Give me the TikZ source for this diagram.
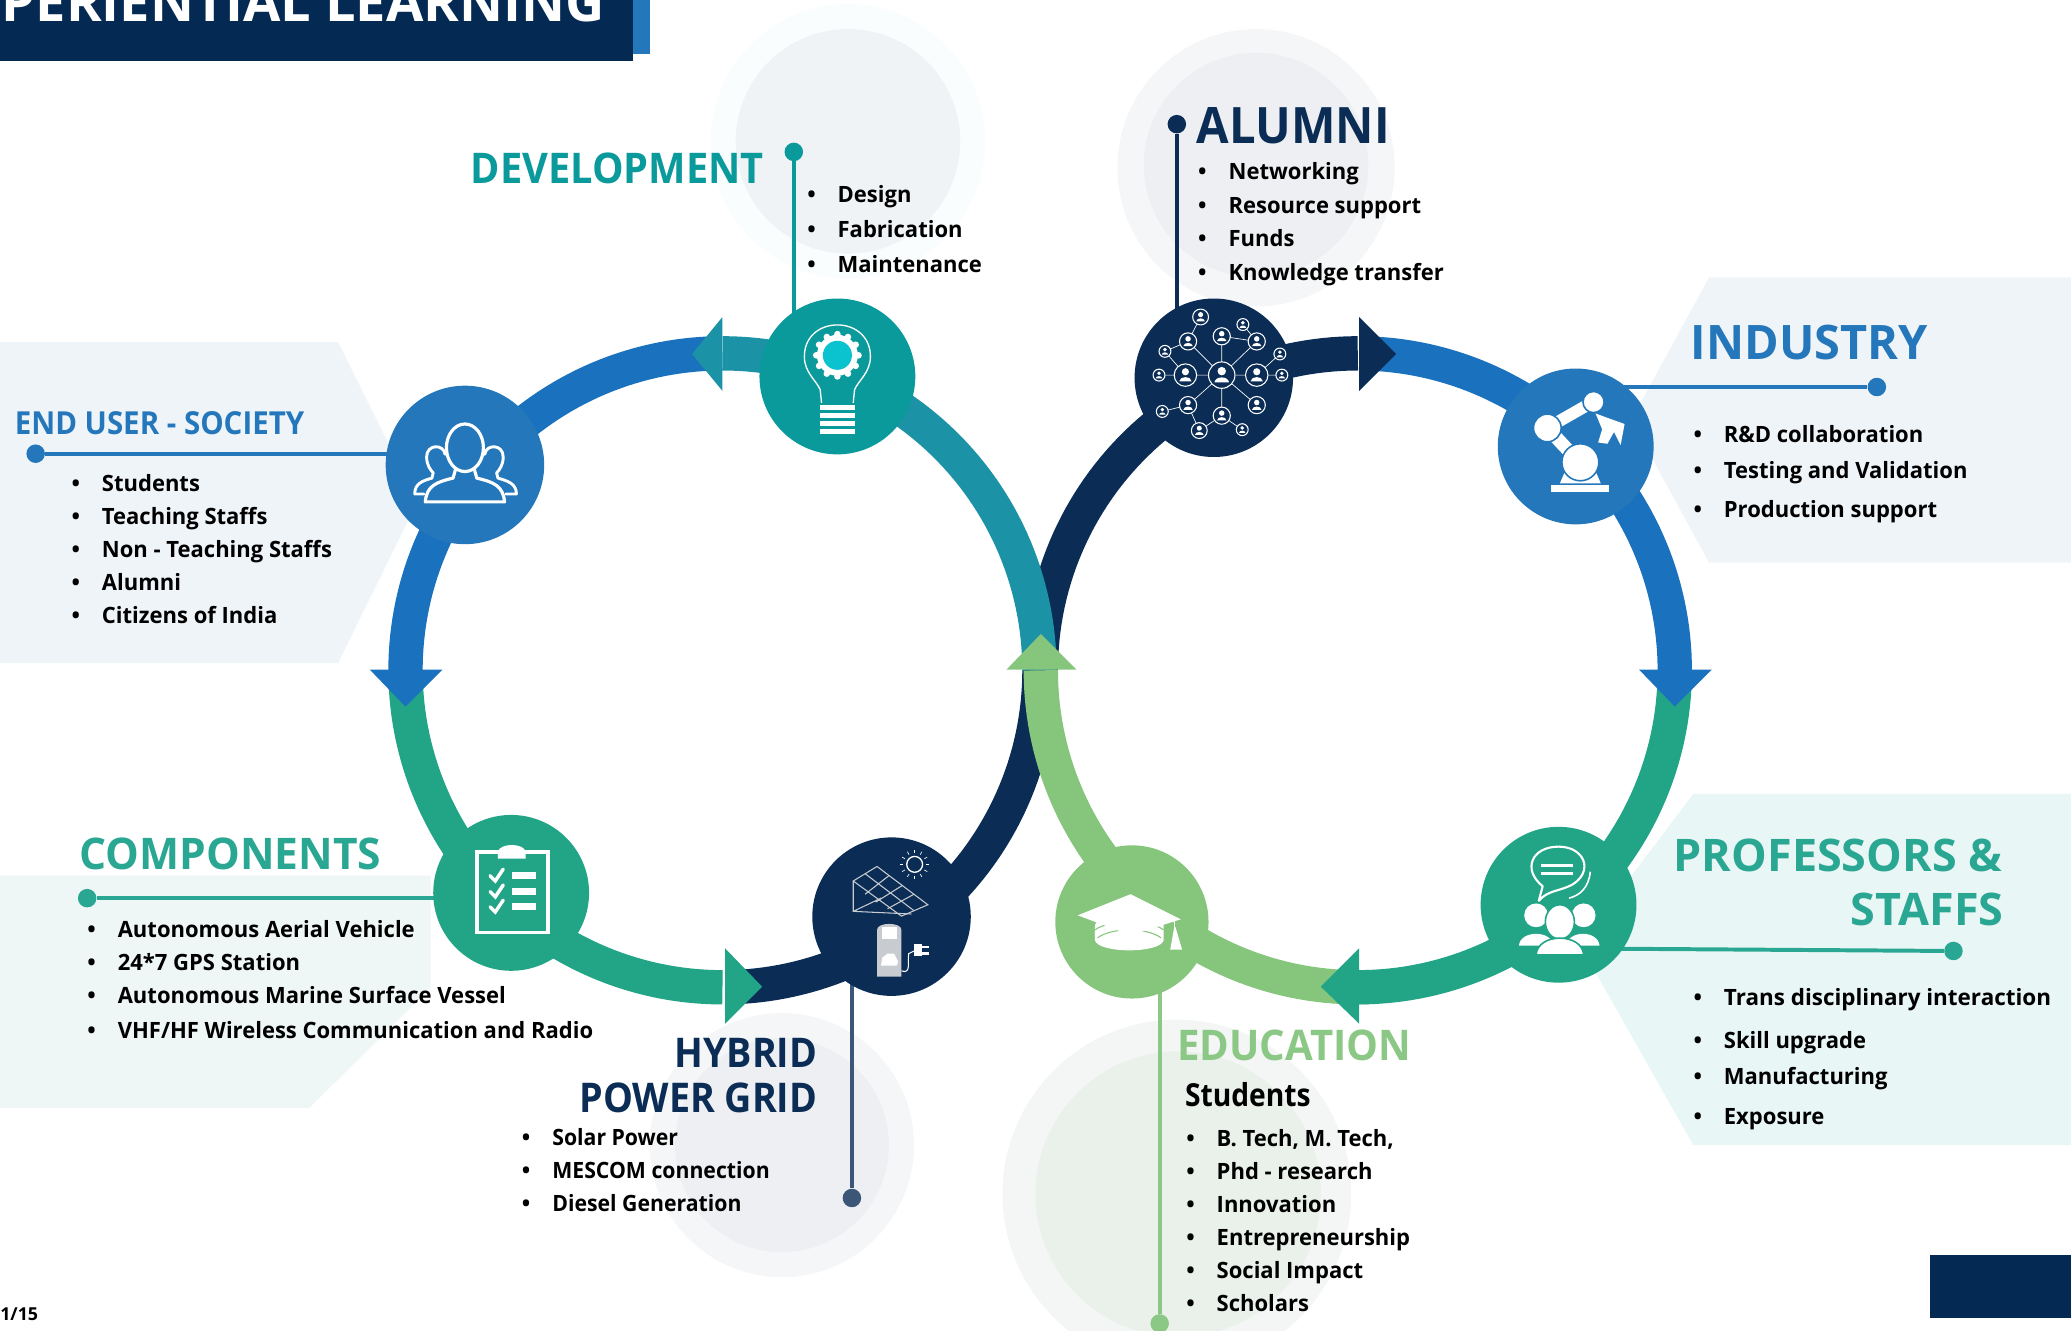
\documentclass[tikz,border=0pt]{standalone}
\usepackage{graphicx}
\usepackage{fontspec}
\setmainfont{Open Sans}
\definecolor{cnavy}{HTML}{0A2C55}
\definecolor{cblue}{HTML}{2377BA}
\definecolor{cring}{HTML}{1A72BE}
\definecolor{cteal}{HTML}{0A9A9C}
\definecolor{cringteal}{HTML}{1C92A6}
\definecolor{cgreen}{HTML}{22A586}
\definecolor{clight}{HTML}{86C67C}
\definecolor{ctitleg}{HTML}{2AA792}
\definecolor{ctitlel}{HTML}{8CC885}
\definecolor{cpaneb}{HTML}{EFF4F9}
\definecolor{cpaneg}{HTML}{EEF7F6}
\definecolor{cpanep}{HTML}{E9F6F6}
\definecolor{chdr}{HTML}{042A54}
\definecolor{cdiscA}{HTML}{FAFDFD}
\definecolor{cdiscB}{HTML}{EFF3F6}
\definecolor{cdiscC}{HTML}{F5F6F7}
\definecolor{cdiscD}{HTML}{EEEFF2}
\definecolor{cdiscE}{HTML}{E9F1EA}
\definecolor{cdiscF}{HTML}{F4F5F5}
\definecolor{cgrey}{HTML}{C8CBCF}
\definecolor{ccyan}{HTML}{0BC2CF}
\tikzset{
 x=1pt,y=-1pt,
 title/.style={anchor=base west,inner sep=0pt,font=\bfseries\fontsize{#1}{#1}\selectfont},
 titler/.style={anchor=base east,inner sep=0pt,font=\bfseries\fontsize{#1}{#1}\selectfont},
 itemtext/.style={anchor=base west,inner sep=0pt,font=\bfseries\fontsize{17}{20}\selectfont,text=black},
 icon/.style={circle,minimum size=#1,inner sep=0pt},
 leaddot/.style={circle,minimum size=14pt,inner sep=0pt,fill=#1},
 leader/.style={line width=3pt,color=#1},
 wline/.style={draw=white,line width=#1,line cap=round,line join=round},
}
\newcommand{\sx}[2]{\scalebox{#1}[1]{#2}}
\newcommand{\ringarc}[5]{\draw[line width=26pt,line join=round,color=#5] plot[domain=#3:#4,samples=60] ({#1+240*cos(\x)},{#2-240*sin(\x)});}
\newcommand{\li}[4]{\node[itemtext] (#1) at (#2-23,#3+1) {\makebox[23pt][l]{\textbullet}\sx{.98}{#4}};}
\newcommand{\netp}[3]{%
 \draw[white,line width=0.8pt,fill=cnavy] (#1,#2) circle (#3 pt);
 \fill[white] ({#1},{#2-0.3*#3}) circle ({0.32*#3 pt});
 \fill[white] ({#1-0.55*#3},{#2+0.55*#3}) .. controls ({#1-0.5*#3},{#2+0.05*#3}) and ({#1+0.5*#3},{#2+0.05*#3}) .. ({#1+0.55*#3},{#2+0.55*#3}) -- cycle;}
\begin{document}
\begin{tikzpicture}
\useasboundingbox (0,0) rectangle (1568,1007.7);
\clip (0,0) rectangle (1568,1007.7);
% pale discs
\fill[cdiscA] (642,107) circle (104pt);
\fill[cdiscB] (642,107) circle (85pt);
\fill[cdiscC] (951,127) circle (105pt);
\fill[cdiscD] (951,125) circle (85pt);
\fill[cdiscC] (592,867) circle (100pt);
\fill[cdiscD] (592,867) circle (81pt);
\fill[cdiscF] (891,904) circle (132pt);
\fill[cdiscE] (892,904) circle (108pt);
% panels
\fill[cpaneb] (0,259) -- (256,259) -- (316,380) -- (256,502) -- (0,502) -- cycle;
\fill[cpaneb] (1294,210) -- (1568,210) -- (1568,426) -- (1294,426) -- (1235,318) -- cycle;
\fill[cpaneg] (0,663) -- (326,663) -- (326,748) -- (234,839) -- (0,839) -- cycle;
\fill[cpanep] (1282,601) -- (1568,601) -- (1568,867) -- (1282,867) -- (1196,715) -- cycle;
% header and footer
\fill[cblue] (0,0) rectangle (492,41);
\fill[chdr] (0,0) rectangle (479,46);
\node[titler=41,text=white] (hdr) at (458,16.5) {PERIENTIAL LEARNING};
\fill[chdr] (1461,950) rectangle (1568,998);
\node[title=13.5,text=black] (pg) at (0,1000) {1/15};
% rings
\ringarc{1028}{507.5}{90}{180}{cnavy}
\ringarc{547}{507.5}{272}{360}{cnavy}
\ringarc{547}{507.5}{180}{270}{cgreen}
\ringarc{547}{507.5}{92}{180}{cring}
\ringarc{547}{507.5}{0}{90}{cringteal}
\ringarc{1028}{507.5}{180}{272}{clight}
\ringarc{1028}{507.5}{270}{360}{cgreen}
\ringarc{1028}{507.5}{0}{88}{cring}
% arrowheads
\fill[cring] (280,507) -- (307,535) -- (335,507) -- cycle;
\fill[cgreen] (549,718) -- (577,747) -- (549,775) -- cycle;
\fill[cringteal] (547,240) -- (524,268) -- (547,296) -- cycle;
\fill[cnavy] (1029,240) -- (1057,268) -- (1029,296) -- cycle;
\fill[cring] (1241,507) -- (1268,535) -- (1296,507) -- cycle;
\fill[cgreen] (1029,718) -- (1000,747) -- (1029,775) -- cycle;
\fill[clight] (762,507) -- (788,480) -- (815,507) -- cycle;
% leader dots and icon discs
\node[leaddot=cteal] (ddev) at (601,115) {};
\node[leaddot=cnavy] (dalu) at (891,94) {};
\node[leaddot=cblue] (dind) at (1421,293) {};
\node[leaddot=cblue] (dusr) at (27,343.5) {};
\node[leaddot=ctitleg] (dcmp) at (66,680) {};
\node[leaddot=ctitleg] (dpro) at (1479,720) {};
\node[leaddot={cnavy!80!white}] (dhyb) at (645,907) {};
\node[leaddot=ctitlel] (dedu) at (878,1002) {};
\coordinate (cdev) at (634,285);
\coordinate (calu) at (919,286);
\coordinate (cind) at (1193,338);
\coordinate (cusr) at (352,352);
\coordinate (ccmp) at (387,676);
\coordinate (cpro) at (1180,685);
\coordinate (chyb) at (675,694);
\coordinate (cedu) at (857,698);
\draw[leader=cteal] (ddev) -- (ddev |- cdev);
\draw[leader=cnavy] (dalu) -- (dalu |- calu);
\draw[leader=cblue] (dind) -- (dind -| cind);
\draw[leader=cblue] (dusr) -- (dusr -| cusr);
\draw[leader=ctitleg] (dcmp) -- (dcmp -| ccmp);
\draw[leader=ctitleg] (dpro) -- (cpro |- 0,718);
\draw[leader={cnavy!80!white}] (dhyb) -- (dhyb |- chyb);
\draw[leader=ctitlel] (dedu) -- (dedu |- cedu);
\node[icon=118pt,fill=cteal] (idev) at (cdev) {};
\node[icon=120pt,fill=cnavy] (ialu) at (calu) {};
\node[icon=118pt,fill=cblue] (iind) at (cind) {};
\node[icon=120pt,fill=cblue] (iusr) at (cusr) {};
\node[icon=118pt,fill=cgreen] (icmp) at (ccmp) {};
\node[icon=118pt,fill=cgreen] (ipro) at (cpro) {};
\node[icon=120pt,fill=cnavy] (ihyb) at (chyb) {};
\node[icon=116pt,fill=clight] (iedu) at (cedu) {};
% users glyph
\draw[wline=2.4pt] (352,339) ellipse [x radius=14pt,y radius=18pt];
\draw[wline=2.4pt] (345,355) -- (343,362) .. controls (330,365) and (323,368) .. (322,380) -- (382,380) .. controls (381,368) and (374,365) .. (361,362) -- (359,355);
\draw[wline=2.2pt] (337,344) .. controls (336,336) and (323,336) .. (323,346) .. controls (323,352) and (326,356) .. (328,358) -- (327,362) .. controls (320,364) and (314,366) .. (314,374) -- (321,374);
\draw[wline=2.2pt] (367,344) .. controls (368,336) and (381,336) .. (381,346) .. controls (381,352) and (378,356) .. (376,358) -- (377,362) .. controls (384,364) and (391,366) .. (391,374) -- (383,374);
% bulb glyph
\draw[draw=white,line width=1pt] (622,305) -- (621,295) .. controls (618,288) and (609,282) .. (609,270) .. controls (609,238) and (659,238) .. (659,270) .. controls (659,282) and (650,288) .. (647,295) -- (646,305);
\foreach \a in {0,30,...,330}{\fill[white] ({634+16*cos(\a)},{269+16*sin(\a)}) circle (2.5pt);}
\fill[white] (634,269) circle (15.5pt);
\fill[ccyan] (634,269) circle (11pt);
\foreach \yy in {307,313,319,325}{\fill[white] (621,\yy) rectangle (647,\yy+3.5);}
% network glyph
\draw[white,line width=0.5pt] (925,284) -- (897.5,284) (925,284) -- (951.5,284) (925,284) -- (951.5,258.5) (925,284) -- (899.5,306.7) (925,284) -- (899.5,258.5) (925,284) -- (925,254.6) (925,284) -- (925,314.7) (925,284) -- (951.5,306.7) (899.5,258.5) -- (909,240) (899.5,258.5) -- (882,266) (925,254.6) -- (951.5,258.5) (951.5,258.5) -- (941,245.7) (951.5,284) -- (969,268) (951.5,284) -- (970.5,284) (897.5,284) -- (882,266) (897.5,284) -- (877.5,284) (899.5,306.7) -- (880,311.5) (899.5,306.7) -- (908,326) (925,314.7) -- (908,326) (925,314.7) -- (940.5,325.3);
\netp{925}{284}{10}\netp{897.5}{284}{8.5}\netp{951.5}{284}{8.5}
\netp{899.5}{258.5}{6.5}\netp{925}{254.6}{6.5}\netp{951.5}{258.5}{6.5}
\netp{899.5}{306.7}{6.5}\netp{925}{314.7}{6.5}\netp{951.5}{306.7}{6.5}
\netp{909}{240}{6}\netp{941}{245.7}{4.5}\netp{882}{266}{4.5}\netp{969}{268}{4.5}
\netp{877.5}{284}{4.5}\netp{970.5}{284}{4.5}\netp{880}{311.5}{4.5}\netp{908}{326}{6}\netp{940.5}{325.3}{4.5}
% robot glyph
\fill[white] (1174,367) rectangle (1218,372.5);
\fill[white] (1181,366) -- (1187,352) -- (1206,352) -- (1212,366) -- cycle;
\draw[white,line width=10pt,line cap=round] (1171.5,324) -- (1193,347);
\draw[white,line width=9pt,line cap=round] (1171.5,324) -- (1206.5,304);
\fill[white] (1196.5,350) circle (14pt);
\draw[cblue,line width=1.2pt] (1196.5,350) circle (14pt);
\fill[white] (1171.5,324) circle (10.5pt);
\draw[cblue,line width=1.2pt] (1171.5,324) circle (10.5pt);
\fill[white] (1206.5,304.4) circle (8pt);
\draw[cblue,line width=1.2pt] (1206.5,304.4) circle (8pt);
\fill[white] (1208,313) -- (1216,316) -- (1230,321) -- (1227,337) -- (1222,327) -- (1217,336) -- (1210,335) -- (1213,325) -- cycle;
% clipboard glyph
\draw[white,line width=3pt] (361.5,645) rectangle (415,706);
\fill[white] (377,645) .. controls (378,638) and (397,638) .. (398,645) -- (398,650) -- (377,650) -- cycle;
\foreach \yy in {663,675,686.5}{
 \draw[white,line width=2.6pt,line cap=round] (371,\yy) -- (375,\yy+4) -- (381,\yy-5);
 \fill[white] (387.5,\yy-2.5) rectangle (406,\yy+2.5);}
% solar and charger glyph
\draw[cgrey,line width=0.8pt] (646,667) -- (664,656) -- (702.5,685) -- (682.5,693.6) -- cycle;
\draw[cgrey,line width=0.8pt] (646,667) -- (646,690) -- (690,692) (646,690) -- (667,680) (655,661.5) -- (692,689.5) (673,663) -- (655,677) (683,670.5) -- (663,683) (692,677) -- (672,688);
\draw[white,line width=1pt] (692.5,654.4) circle (6pt);
\foreach \a in {0,30,...,330}{\draw[white,line width=0.5pt] ({692.5+8.5*cos(\a)},{654.4+8.5*sin(\a)}) -- ({692.5+11*cos(\a)},{654.4+11*sin(\a)});}
\fill[cgrey] (664,739.5) -- (664,704) .. controls (664,698) and (682.5,698) .. (682.5,704) -- (682.5,739.5) -- cycle;
\fill[white] (667.5,702) rectangle (679,711);
\fill[white] (667,731) -- (668,725) -- (672,722) -- (677,722) -- (680,728) -- (679,731) -- cycle;
\draw[white,line width=0.8pt] (682.5,735) .. controls (690,738) and (687,728) .. (688,722) -- (692,720);
\fill[white] (692,715) rectangle (698,724);
\fill[white] (698,716) rectangle (703,718);
\fill[white] (698,721) rectangle (703,723);
% cap glyph
\fill[white] (829,701) .. controls (829,690) and (881,690) .. (881,701) -- (881,712) .. controls (878,722) and (832,722) .. (829,712) -- cycle;
\draw[clight,line width=0.8pt] (829,704) .. controls (840,696) and (870,696) .. (881,704);
\draw[clight,line width=0.8pt] (831,710) .. controls (842,702) and (868,702) .. (879,710);
\fill[white] (856,677) -- (816,693) -- (856,708) -- (894,696) -- cycle;
\draw[white,line width=1pt] (889,696) -- (889,705);
\fill[white] (886,719) -- (889,702) -- (890,702) -- (895,719) -- cycle;
% professor glyph
\draw[white,line width=1.6pt,line join=round] (1168,671) .. controls (1152,658) and (1160,641) .. (1180,641) .. controls (1200,641) and (1207,660) .. (1190,670) .. controls (1180,675) and (1172,674) .. (1165,682) -- cycle;
\draw[white,line width=1.2pt] (1204,660) .. controls (1203,672) and (1196,678) .. (1188,680);
\fill[white] (1167,654) rectangle (1191,656.5);
\fill[white] (1167,660) rectangle (1191,662.5);
\fill[white] (1163,693) circle (9pt);
\fill[white] (1199,693) circle (9pt);
\fill[white] (1150,716) .. controls (1151,704) and (1175,704) .. (1176,716) -- cycle;
\fill[white] (1186,716) .. controls (1187,704) and (1210,704) .. (1211,716) -- cycle;
\draw[cgreen,line width=1.2pt,fill=white] (1181,698) ellipse [x radius=11pt,y radius=13pt];
\draw[cgreen,line width=1.2pt,fill=white] (1163,723) .. controls (1164,706) and (1198,706) .. (1199,723) -- cycle;
% titles
\node[titler=32,text=cteal] (tdev) at (578.5,139) {\sx{.94}{DEVELOPMENT}};
\node[title=38,text=cnavy] (talu) at (906,109) {\sx{.94}{ALUMNI}};
\node[title=36,text=cblue] (tind) at (1280,272) {\sx{.985}{INDUSTRY}};
\node[title=24,text=cblue] (tusr) at (11,329) {\sx{.93}{END USER - SOCIETY}};
\node[title=33,text=ctitleg] (tcmp) at (60,658) {\sx{.975}{COMPONENTS}};
\node[titler=34,text=ctitleg] (tpro1) at (1516,660) {PROFESSORS \&};
\node[titler=34,text=ctitleg] (tpro2) at (1517,701) {STAFFS};
\node[titler=31,text=cnavy] (thyb1) at (619,808) {\sx{.92}{HYBRID}};
\node[titler=31,text=cnavy] (thyb2) at (619,842) {\sx{.92}{POWER GRID}};
\node[title=32,text=ctitlel] (tedu) at (891,803) {\sx{.95}{EDUCATION}};
\node[title=24,text=black] (tstu) at (897,838) {\sx{.89}{Students}};
% lists
\li{d1}{634}{152}{Design}\li{d2}{634}{179}{Fabrication}\li{d3}{634}{205}{Maintenance}
\li{a1}{930}{135}{Networking}\li{a2}{930}{161}{Resource support}\li{a3}{930}{186}{Funds}\li{a4}{930}{211}{Knowledge transfer}
\li{n1}{1305}{334}{R\&D collaboration}\li{n2}{1305}{361}{Testing and Validation}\li{n3}{1305}{391}{Production support}
\li{u1}{77}{371}{Students}\li{u2}{77}{396}{Teaching Staffs}\li{u3}{77}{421}{Non - Teaching Staffs}\li{u4}{77}{446}{Alumni}\li{u5}{77}{471}{Citizens of India}
\li{c1}{89}{709}{Autonomous Aerial Vehicle}\li{c2}{89}{734}{24*7 GPS Station}\li{c3}{89}{759}{Autonomous Marine Surface Vessel}\li{c4}{89}{785}{VHF/HF Wireless Communication and Radio}
\li{h1}{418}{866}{\sx{.965}{Solar Power}}\li{h2}{418}{891}{\sx{.965}{MESCOM connection}}\li{h3}{418}{916}{\sx{.965}{Diesel Generation}}
\li{e1}{921}{867}{B. Tech, M. Tech,}\li{e2}{921}{892}{Phd - research}\li{e3}{921}{917}{Innovation}\li{e4}{921}{942}{Entrepreneurship}\li{e5}{921}{967}{Social Impact}\li{e6}{921}{992}{Scholars}
\li{p1}{1305}{760}{\sx{1.02}{Trans disciplinary interaction}}\li{p2}{1305}{793}{Skill upgrade}\li{p3}{1305}{820}{Manufacturing}\li{p4}{1305}{850}{Exposure}
\end{tikzpicture}
\end{document}
